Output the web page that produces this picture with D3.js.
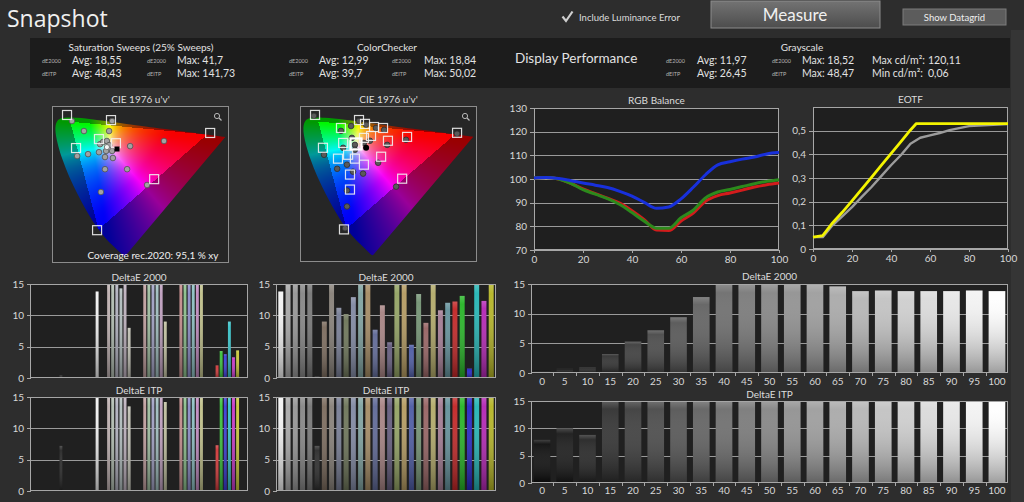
<!DOCTYPE html>
<html>
<head>
<meta charset="utf-8">
<title>Snapshot</title>
<script src="https://cdn.jsdelivr.net/npm/d3@7"></script>
<style>
  body { margin: 0; background: #2d2d2d; overflow: hidden; }
  svg { display: block; font-family: Lato, "Open Sans", sans-serif; }
  .axis path, .axis line { stroke: #a8a8a8; shape-rendering: crispEdges; }
  .axis text { fill: #d8d8d8; font-size: 10px; font-family: Lato, sans-serif; }
</style>
</head>
<body>
<svg id="snap" width="1024" height="502"></svg>
<script>
var grayLevels = [0,5,10,15,20,25,30,35,40,45,50,55,60,65,70,75,80,85,90,95,100];

// RGB balance (%)
var rgbRed   = [100.4,100.6,100,98.2,95.8,93.8,91.9,89.8,86.6,82.8,78.4,78.2,82.2,85.6,90.6,93,94.1,95.3,96.6,97.6,98.3];
var rgbGreen = [100.4,100.6,100,98.2,95.5,93.6,91.7,89.2,85.8,82.2,79.2,79.2,83.6,86.8,92,94.5,95.6,96.8,98,99,99.7];
var rgbBlue  = [100.4,100.6,100.2,99.3,98.3,97.4,96.4,94.8,92.8,90.1,87.6,88.2,91.6,96.5,101.8,106,107.3,108.4,109.3,110.6,111.3];
var rgbTicks = [70,80,90,100,110,120,130];

// EOTF
var eotfTargetX = [0,5,10,15,20,25,30,35,40,45,50,53,55,60,65,70,75,80,85,90,95,100];
var eotfTarget  = [0.05,0.057,0.11,0.155,0.203,0.253,0.303,0.353,0.403,0.453,0.503,0.53,0.53,0.53,0.53,0.53,0.53,0.53,0.53,0.53,0.53,0.53];
var eotfMeasured = [0.05,0.05,0.1,0.138,0.177,0.22,0.262,0.308,0.354,0.396,0.445,0.47,0.48,0.49,0.502,0.511,0.519,0.522,0.524,0.526,0.528];
var eotfTicks = [0,0.1,0.2,0.3,0.4,0.5,0.6];

// grayscale deltaE
var grayDe2000 = [0.5,0.7,1.0,3.2,5.3,7.2,9.4,12.8,15,15,15,15,15,14.6,13.8,13.9,13.8,13.8,13.8,13.9,13.8];
var grayDeItp  = [7.9,10,8.8,15,15,15,15,15,15,15,15,15,15,15,15,15,15,15,15,15,15];

// saturation sweeps (groups of 7 slots)
var sweepGroups = ["Black","White","25%","50%","75%","100%"];
var sweepSlots  = ["Red","Green","Blue","Cyan","Magenta","Yellow","Gray"];
var sweepDe2000 = [
  [null,null,null,null,null,null,0.4],
  [null,null,null,null,null,null,13.8],
  [15,15,15,14.3,15,8,null],
  [15,15,15,15,15,9,null],
  [15,15,15,15,15,15,null],
  [2,4.3,3.8,9,3.3,4.4,null]
];
var sweepDeItp = [
  [null,null,null,null,null,null,7.2],
  [null,null,null,null,null,null,15],
  [15,15,15,15,15,13.5,null],
  [15,15,15,15,15,14.2,null],
  [15,15,15,15,15,15,null],
  [7.3,15,15,15,15,15,null]
];

// ColorChecker
var ccNames  = ["White","Gray 80","Gray 65","Gray 50","Gray 35","Black","Dark Skin","Light Skin","Blue Sky","Foliage",
                "Blue Flower","Bluish Green","Orange","Purplish Blue","Moderate Red","Purple","Yellow Green","Orange Yellow",
                "Blue CC","Green CC","Red CC","Yellow CC","Magenta CC","Cyan CC","Red","Green","Blue","Cyan","Magenta","Yellow"];
var ccColors = ["#f2f2f2","#a8a8a8","#959595","#858585","#767676","#2a2a2a","#7a6a5c","#878078","#767c94","#6c7458",
                "#8088a2","#7ea2a0","#a48a62","#5e6896","#a68282","#625a7c","#92a262","#b49a60","#4c5aa4","#729272",
                "#966262","#b2aa68","#a27a92","#62909a","#c22424","#24b424","#2424c4","#22b4b4","#b424b4","#b4b424"];
var ccDe2000 = [13.8,15,15,15,15,0.3,9,15,11.2,10.2,12.9,15,15,7.7,11.6,5.7,15,15,5.3,13.4,8.8,15,10.8,12,12.2,13.1,1.5,15,12.3,15];
var ccDeItp  = [15,15,15,15,15,7.2,15,15,15,15,15,15,15,15,15,15,15,15,15,15,15,15,15,15,15,15,15,15,15,15];

// spectral locus (CIE 1931 x,y)
var locusX = [0.1741,0.1714,0.1644,0.1566,0.1440,0.1241,0.1096,0.0913,0.0687,0.0454,0.0235,0.0082,0.0039,0.0139,
              0.0389,0.0743,0.1142,0.1547,0.2296,0.3016,0.3731,0.4441,0.5125,0.5752,0.6270,0.6915,0.7190,0.7347];
var locusY = [0.0050,0.0051,0.0109,0.0177,0.0297,0.0578,0.0868,0.1327,0.2007,0.2950,0.4127,0.5384,0.6548,0.7502,
              0.8120,0.8338,0.8262,0.8059,0.7543,0.6923,0.6245,0.5547,0.4866,0.4242,0.3725,0.3083,0.2809,0.2653];
var rec2020UV = [[0.5566,0.5165],[0.0557,0.5697],[0.1593,0.1258]];

// u'v' markers
var sweepTargetUV = [[0.044,0.597],[0.205,0.576],[0.568,0.523],[0.077,0.461],[0.161,0.498],[0.223,0.481],[0.363,0.333],[0.154,0.123]];
var sweepMeasuredUV = [[0.062,0.572],[0.106,0.531],[0.198,0.531],[0.209,0.572],[0.399,0.490],[0.275,0.469],[0.121,0.436],
                       [0.081,0.428],[0.183,0.374],[0.264,0.374],[0.168,0.280],[0.337,0.309],[0.165,0.477],[0.176,0.486],
                       [0.190,0.490],[0.198,0.473],[0.187,0.449],[0.209,0.449],[0.161,0.444],[0.183,0.424],[0.212,0.420]];
var sweepWhiteUV = [0.190,0.465];
var sweepBlackUV = [0.227,0.457];
var ccTargetUV = [[0.044,0.597],[0.205,0.576],[0.227,0.560],[0.260,0.547],[0.293,0.543],[0.139,0.543],[0.564,0.523],
                  [0.381,0.506],[0.249,0.510],[0.311,0.490],[0.223,0.502],[0.147,0.481],[0.073,0.461],[0.286,0.424],
                  [0.165,0.432],[0.128,0.416],[0.190,0.416],[0.223,0.391],[0.172,0.350],[0.363,0.333],[0.172,0.288],[0.150,0.123]];
var ccWhiteTargetUV = [0.194,0.477];
var ccMeasuredUV = [[0.040,0.593],[0.205,0.572],[0.176,0.551],[0.231,0.556],[0.267,0.543],[0.297,0.535],[0.139,0.531],
                    [0.179,0.502],[0.377,0.494],[0.245,0.490],[0.223,0.481],[0.190,0.473],[0.147,0.461],[0.308,0.473],
                    [0.077,0.432],[0.190,0.453],[0.161,0.391],[0.275,0.399],[0.125,0.374],[0.183,0.362],[0.220,0.354],
                    [0.341,0.300],[0.161,0.284],[0.161,0.218],[0.154,0.128],[0.564,0.519]];
var ccBlackUV = [0.231,0.461];

// ---------- page ----------
var svg = d3.select("#snap");
var defs = svg.append("defs");

svg.append("rect").attr("width",1024).attr("height",502).attr("fill","#2d2d2d");
svg.append("rect").attr("x",1011).attr("y",30).attr("width",13).attr("height",472).attr("fill","#353535");

var shade = defs.append("linearGradient").attr("id","barShade")
  .attr("x1",0).attr("y1",0).attr("x2",0).attr("y2",1);
shade.append("stop").attr("offset","0%").attr("stop-color","#fff").attr("stop-opacity",0.22);
shade.append("stop").attr("offset","10%").attr("stop-color","#fff").attr("stop-opacity",0.05);
shade.append("stop").attr("offset","100%").attr("stop-color","#000").attr("stop-opacity",0.38);

var btn = defs.append("linearGradient").attr("id","btnGrad")
  .attr("x1",0).attr("y1",0).attr("x2",0).attr("y2",1);
btn.append("stop").attr("offset","0%").attr("stop-color","#737373");
btn.append("stop").attr("offset","100%").attr("stop-color","#4d4d4d");

// header
svg.append("text").attr("x",7).attr("y",27).text("Snapshot")
  .attr("fill","#f0f0f0").style("font-size","23px").style("font-family","'Open Sans', Lato, sans-serif");

svg.append("path").attr("d","M562.5,16.5 L566,21 L572.5,11.5")
  .attr("fill","none").attr("stroke","#cfcfcf").attr("stroke-width",2.2);
svg.append("text").attr("x",579).attr("y",21).text("Include Luminance Error")
  .attr("fill","#dcdcdc").style("font-size","9.5px");

svg.append("rect").attr("x",711).attr("y",1).attr("width",169).attr("height",27)
  .attr("fill","url(#btnGrad)").attr("stroke","#8c8c8c");
svg.append("text").attr("x",795).attr("y",21).attr("text-anchor","middle").text("Measure")
  .attr("fill","#f0f0f0").style("font-size","17px");

svg.append("rect").attr("x",903).attr("y",9).attr("width",103).attr("height",16)
  .attr("fill","#5c5c5c").attr("stroke","#7c7c7c");
svg.append("text").attr("x",954.5).attr("y",21).attr("text-anchor","middle").text("Show Datagrid")
  .attr("fill","#eeeeee").style("font-size","9.5px");

// stats panel
svg.append("rect").attr("x",30).attr("y",38).attr("width",980).attr("height",50).attr("fill","#1c1c1c");

function statText(x, y, t, size, anchor) {
  svg.append("text").attr("x",x).attr("y",y).text(t)
    .attr("fill", size < 8 ? "#b4b4b4" : "#e2e2e2")
    .attr("text-anchor", anchor || "start")
    .style("font-size", size + "px");
}
statText(141,51,"Saturation Sweeps (25% Sweeps)",10,"middle");
statText(387,51,"ColorChecker",10,"middle");
statText(802,51,"Grayscale",10,"middle");
statText(515,63,"Display Performance",13.5);

var statRows = [
  [42,"dE2000",72,"Avg: 18,55",147,"dE2000",177,"Max: 41,7"],
  [42,"dEITP",72,"Avg: 48,43",147,"dEITP",177,"Max: 141,73"],
  [289,"dE2000",319,"Avg: 12,99",392,"dE2000",424,"Max: 18,84"],
  [289,"dEITP",319,"Avg: 39,7",392,"dEITP",424,"Max: 50,02"],
  [666,"dE2000",697,"Avg: 11,97",772,"dE2000",802,"Max: 18,52"],
  [666,"dEITP",697,"Avg: 26,45",772,"dEITP",802,"Max: 48,47"]
];
statRows.forEach(function(r, i) {
  var y = i % 2 === 0 ? 64 : 77;
  statText(r[0], y - 1, r[1], 5.5);
  statText(r[2], y, r[3], 10.5);
  statText(r[4], y - 1, r[5], 5.5);
  statText(r[6], y, r[7], 10.5);
});
statText(872,64,"Max cd/m\u00b2:",10.5);
statText(928,64,"120,11",10.5);
statText(872,77,"Min cd/m\u00b2:",10.5);
statText(928,77,"0,06",10.5);

// ---------- CIE u'v' diagrams ----------
var uvU = [-0.011, 0.637], uvV = [-0.012, 0.634];

function xyToUv(x, y) {
  var d = -2 * x + 12 * y + 3;
  return [4 * x / d, 9 * y / d];
}
function gam(c) {
  c = Math.max(0, Math.min(1, c));
  return c <= 0.0031308 ? 12.92 * c : 1.055 * Math.pow(c, 1 / 2.4) - 0.055;
}
function sideOf(p, a, b) {
  return (b[0] - a[0]) * (p[1] - a[1]) - (b[1] - a[1]) * (p[0] - a[0]);
}
function inTri(p, t) {
  var s1 = sideOf(p, t[0], t[1]), s2 = sideOf(p, t[1], t[2]), s3 = sideOf(p, t[2], t[0]);
  return (s1 >= 0 && s2 >= 0 && s3 >= 0) || (s1 <= 0 && s2 <= 0 && s3 <= 0);
}
function uvColor(u, v) {
  var d = 6 * u - 16 * v + 12, cx = 9 * u / d, cy = 4 * v / d;
  if (cy <= 0.0005) return [0, 0, 0];
  var X = cx / cy, Z = (1 - cx - cy) / cy;
  var r = Math.max(0, 3.2406 * X - 1.5372 - 0.4986 * Z);
  var g = Math.max(0, -0.9689 * X + 1.8758 + 0.0415 * Z);
  var b = Math.max(0, 0.0557 * X - 0.2040 + 1.0570 * Z);
  var m = Math.max(r, g, b) || 1;
  // push chroma outwards so the white zone stays small
  r = Math.pow(r / m, 2.1); g = Math.pow(g / m, 2.1); b = Math.pow(b / m, 2.1);
  var k = inTri([u, v], rec2020UV) ? 0.97 : 0.6;
  return [gam(r) * 255 * k, gam(g) * 255 * k, gam(b) * 255 * k];
}

function cieChart(b, id, targets, measured, dotFill, dotStroke) {
  var g = svg.append("g");
  var x = d3.scaleLinear().domain(uvU).range([b.x0, b.x1]);
  var y = d3.scaleLinear().domain(uvV).range([b.y1, b.y0]);
  g.append("rect").attr("x",b.x0).attr("y",b.y0).attr("width",b.x1-b.x0).attr("height",b.y1-b.y0)
    .attr("fill","#262626");

  var locus = locusX.map(function(lx, i) { return xyToUv(lx, locusY[i]); });
  var locusPath = d3.line().x(function(d) { return x(d[0]); }).y(function(d) { return y(d[1]); })
    .curve(d3.curveCatmullRom.alpha(0.5))(locus) + "Z";
  defs.append("clipPath").attr("id", id).append("path").attr("d", locusPath);

  var w = b.x1 - b.x0, h = b.y1 - b.y0;
  var cv = document.createElement("canvas");
  cv.width = w; cv.height = h;
  var ctx = cv.getContext("2d");
  var img = ctx.createImageData(w, h);
  for (var py = 0; py < h; py++) {
    for (var px = 0; px < w; px++) {
      var c = uvColor(x.invert(b.x0 + px + 0.5), y.invert(b.y0 + py + 0.5));
      var k = (py * w + px) * 4;
      img.data[k] = c[0]; img.data[k + 1] = c[1]; img.data[k + 2] = c[2]; img.data[k + 3] = 255;
    }
  }
  ctx.putImageData(img, 0, 0);
  g.append("image").attr("x",b.x0).attr("y",b.y0).attr("width",w).attr("height",h)
    .attr("href", cv.toDataURL()).attr("clip-path","url(#" + id + ")");

  g.selectAll(".meas").data(measured).enter().append("circle")
    .attr("cx", function(d) { return x(d[0]); }).attr("cy", function(d) { return y(d[1]); })
    .attr("r", 2.8).attr("fill", dotFill).attr("stroke", dotStroke).attr("stroke-width", 0.8);

  g.selectAll(".targ").data(targets).enter().append("rect")
    .attr("x", function(d) { return x(d[0]) - 4.5; }).attr("y", function(d) { return y(d[1]) - 4.5; })
    .attr("width", 9).attr("height", 9).attr("fill","none")
    .attr("stroke","#f2f2f2").attr("stroke-opacity",0.9).attr("stroke-width",1.2);

  g.append("rect").attr("x",b.x0+0.5).attr("y",b.y0+0.5).attr("width",b.x1-b.x0-1).attr("height",b.y1-b.y0-1)
    .attr("fill","none").attr("stroke","#8c8c8c");
  g.append("text").attr("x",(b.x0+b.x1)/2).attr("y",b.y0-3).attr("text-anchor","middle")
    .text("CIE 1976 u'v'").attr("fill","#dcdcdc").style("font-size","10px");
  // zoom icon
  g.append("circle").attr("cx",b.x1-12).attr("cy",b.y0+10).attr("r",2.6)
    .attr("fill","none").attr("stroke","#b8b8b8").attr("stroke-width",1);
  g.append("line").attr("x1",b.x1-10).attr("y1",b.y0+12).attr("x2",b.x1-7.5).attr("y2",b.y0+14.5)
    .attr("stroke","#b8b8b8").attr("stroke-width",1.3);
  return {g: g, x: x, y: y};
}

var cie1 = cieChart({x0:52, x1:229, y0:106, y1:263}, "locusClip1", sweepTargetUV, sweepMeasuredUV, "#a2a2a2", "#505050");
cie1.g.append("circle").attr("cx", cie1.x(sweepWhiteUV[0])).attr("cy", cie1.y(sweepWhiteUV[1]))
  .attr("r", 2.6).attr("fill","#f4f4f4").attr("stroke","#777");
cie1.g.append("rect").attr("x", cie1.x(sweepBlackUV[0]) - 2.5).attr("y", cie1.y(sweepBlackUV[1]) - 2.5)
  .attr("width",5).attr("height",5).attr("fill","#000");
cie1.g.append("text").attr("x",153).attr("y",259).attr("text-anchor","middle")
  .text("Coverage rec.2020:  95,1 % xy").attr("fill","#f0f0f0").style("font-size","10px");

var cie2 = cieChart({x0:300, x1:477, y0:106, y1:262}, "locusClip2", ccTargetUV, ccMeasuredUV, "#5a5a5a", "#2e2e2e");
cie2.g.append("rect").attr("x", cie2.x(ccWhiteTargetUV[0]) - 5.5).attr("y", cie2.y(ccWhiteTargetUV[1]) - 5.5)
  .attr("width",11).attr("height",11).attr("fill","none").attr("stroke","#ffffff").attr("stroke-width",2.2);
cie2.g.append("circle").attr("cx", cie2.x(ccBlackUV[0])).attr("cy", cie2.y(ccBlackUV[1]))
  .attr("r", 3).attr("fill","#000");

// ---------- line charts ----------
function plotFrame(g, b, bg) {
  g.append("rect").attr("x",b.x0).attr("y",b.y0).attr("width",b.x1-b.x0).attr("height",b.y1-b.y0).attr("fill",bg);
}
function gridLines(g, y, ticks, b) {
  g.selectAll(null).data(ticks).enter().append("line")
    .attr("x1",b.x0).attr("x2",b.x1)
    .attr("y1",function(d) { return Math.round(y(d)) + 0.5; })
    .attr("y2",function(d) { return Math.round(y(d)) + 0.5; })
    .attr("stroke","#9a9a9a").attr("stroke-width",1);
}
function plotBorder(g, b) {
  g.append("rect").attr("x",b.x0+0.5).attr("y",b.y0+0.5).attr("width",b.x1-b.x0-1).attr("height",b.y1-b.y0-1)
    .attr("fill","none").attr("stroke","#a6a6a6");
}

function lineChart(b, yDom, yTicks, fmt, title) {
  var g = svg.append("g");
  var x = d3.scaleLinear().domain([0,100]).range([b.x0, b.x1]);
  var y = d3.scaleLinear().domain(yDom).range([b.y1, b.y0]);
  plotFrame(g, b, "#1f1f1f");
  gridLines(g, y, yTicks.slice(1, -1), b);
  plotBorder(g, b);
  g.append("g").attr("class","axis").attr("transform","translate(" + b.x0 + ",0)")
    .call(d3.axisLeft(y).tickValues(yTicks).tickSize(4).tickSizeOuter(0).tickFormat(fmt));
  g.append("g").attr("class","axis").attr("transform","translate(0," + b.y1 + ")")
    .call(d3.axisBottom(x).tickValues([0,20,40,60,80,100]).tickSize(3).tickSizeOuter(0));
  g.append("text").attr("x",(b.x0+b.x1)/2).attr("y",b.y0-4).attr("text-anchor","middle")
    .text(title).attr("fill","#dcdcdc").style("font-size","10px");
  return {g: g, x: x, y: y};
}

var rgb = lineChart({x0:534, x1:779, y0:108, y1:250}, [70,130], rgbTicks, d3.format("d"), "RGB Balance");
var rgbLine = d3.line()
  .x(function(d, i) { return rgb.x(grayLevels[i]); })
  .y(function(d) { return rgb.y(d); })
  .curve(d3.curveMonotoneX);
[["#d21c1c", rgbRed], ["#2c8a1c", rgbGreen], ["#1830dc", rgbBlue]].forEach(function(s) {
  rgb.g.append("path").attr("d", rgbLine(s[1])).attr("fill","none")
    .attr("stroke", s[0]).attr("stroke-width", 3).attr("stroke-linejoin","round");
});

var commaFmt = function(d) { return d === 0 ? "0" : d3.format(".1f")(d).replace(".", ","); };
var eotf = lineChart({x0:813, x1:1008, y0:107, y1:249}, [0,0.6], eotfTicks, commaFmt, "EOTF");
eotf.g.select(".axis").selectAll(".tick").filter(function(d) { return d === 0.6; }).remove();
eotf.g.append("path")
  .attr("d", d3.line().x(function(d, i) { return eotf.x(grayLevels[i]); }).y(function(d) { return eotf.y(d); })(eotfMeasured))
  .attr("fill","none").attr("stroke","#9c9c9c").attr("stroke-width",2.4).attr("stroke-linejoin","round");
eotf.g.append("path")
  .attr("d", d3.line().x(function(d, i) { return eotf.x(eotfTargetX[i]); }).y(function(d) { return eotf.y(d); })(eotfTarget))
  .attr("fill","none").attr("stroke","#f4f400").attr("stroke-width",2.8).attr("stroke-linejoin","round");

// ---------- bar charts ----------
function barChart(b, title, titleY) {
  var g = svg.append("g");
  var y = d3.scaleLinear().domain([0,15]).range([b.y1, b.y0]).clamp(true);
  plotFrame(g, b, "#202020");
  gridLines(g, y, [5,10], b);
  g.append("text").attr("x",(b.x0+b.x1)/2).attr("y",titleY).attr("text-anchor","middle")
    .text(title).attr("fill","#dcdcdc").style("font-size","10px");
  return {g: g, y: y, b: b};
}
function finishBarChart(c) {
  plotBorder(c.g, c.b);
  c.g.append("g").attr("class","axis").attr("transform","translate(" + c.b.x0 + ",0)")
    .call(d3.axisLeft(c.y).tickValues([0,5,10,15]).tickSize(3).tickSizeOuter(0));
}
function drawBars(c, bars) {
  var sel = c.g.selectAll(null).data(bars).enter();
  sel.append("rect")
    .attr("x", function(d) { return d.x; }).attr("width", function(d) { return d.w; })
    .attr("y", function(d) { return c.y(d.v); }).attr("height", function(d) { return c.y(0) - c.y(d.v); })
    .attr("fill", function(d) { return d.c; });
  sel.append("rect")
    .attr("x", function(d) { return d.x; }).attr("width", function(d) { return d.w; })
    .attr("y", function(d) { return c.y(d.v); }).attr("height", function(d) { return c.y(0) - c.y(d.v); })
    .attr("fill", "url(#barShade)");
}

// saturation sweeps
var sweepHue = ["#d22828","#28c228","#2a2ad8","#28c2c8","#c828c8","#c8c828"];
var sweepMix = {"25%": 0.08, "50%": 0.2, "75%": 0.34, "100%": 0.9};
function sweepColor(gi, si) {
  var grp = sweepGroups[gi];
  if (si === 6) return grp === "Black" ? "#262626" : "#f0f0f0";
  return d3.interpolateRgb("#bcbcbc", sweepHue[si])(sweepMix[grp]);
}
function sweepBars(c, values) {
  var outer = d3.scaleBand().domain(sweepGroups).range([c.b.x0, c.b.x1]).paddingInner(0.17).paddingOuter(0.1);
  var inner = d3.scaleBand().domain(sweepSlots).range([0, outer.bandwidth()]).padding(0.3);
  var bars = [];
  values.forEach(function(row, gi) {
    row.forEach(function(v, si) {
      if (v === null) return;
      bars.push({x: outer(sweepGroups[gi]) + inner(sweepSlots[si]), w: inner.bandwidth(), v: v, c: sweepColor(gi, si)});
    });
  });
  drawBars(c, bars);
  finishBarChart(c);
}
sweepBars(barChart({x0:30, x1:248, y0:284, y1:378}, "DeltaE 2000", 281), sweepDe2000);
sweepBars(barChart({x0:30, x1:248, y0:397, y1:491}, "DeltaE ITP", 394), sweepDeItp);

// ColorChecker
function ccBars(c, values) {
  var x = d3.scaleBand().domain(ccNames).range([c.b.x0, c.b.x1]).padding(0.32);
  drawBars(c, values.map(function(v, i) {
    return {x: x(ccNames[i]), w: x.bandwidth(), v: v, c: ccColors[i]};
  }));
  finishBarChart(c);
}
ccBars(barChart({x0:276, x1:496, y0:284, y1:378}, "DeltaE 2000", 281), ccDe2000);
ccBars(barChart({x0:276, x1:496, y0:397, y1:491}, "DeltaE ITP", 394), ccDeItp);

// grayscale
function grayBars(c, values, labelY) {
  var x = d3.scaleBand().domain(grayLevels).range([c.b.x0, c.b.x1]).paddingInner(0.27).paddingOuter(0.12);
  drawBars(c, values.map(function(v, i) {
    var l = Math.round(12 + grayLevels[i] * 2.42);
    return {x: x(grayLevels[i]), w: x.bandwidth(), v: v, c: d3.rgb(l, l, l).toString()};
  }));
  finishBarChart(c);
  c.g.selectAll(null).data(grayLevels).enter().append("text")
    .attr("x", function(d) { return x(d) + x.bandwidth() / 2; }).attr("y", labelY)
    .attr("text-anchor","middle").text(function(d) { return d; })
    .attr("fill","#d8d8d8").style("font-size","10px");
  c.g.selectAll(null).data(grayLevels.slice(1)).enter().append("line")
    .attr("x1", function(d) { return Math.round(x(d) - x.step() * 0.135) + 0.5; })
    .attr("x2", function(d) { return Math.round(x(d) - x.step() * 0.135) + 0.5; })
    .attr("y1", c.b.y1).attr("y2", c.b.y1 + 3).attr("stroke","#a8a8a8");
}
grayBars(barChart({x0:531, x1:1008, y0:284, y1:373}, "DeltaE 2000", 280), grayDe2000, 385);
grayBars(barChart({x0:531, x1:1008, y0:401, y1:483}, "DeltaE ITP", 398), grayDeItp, 494);
</script>
</body>
</html>
